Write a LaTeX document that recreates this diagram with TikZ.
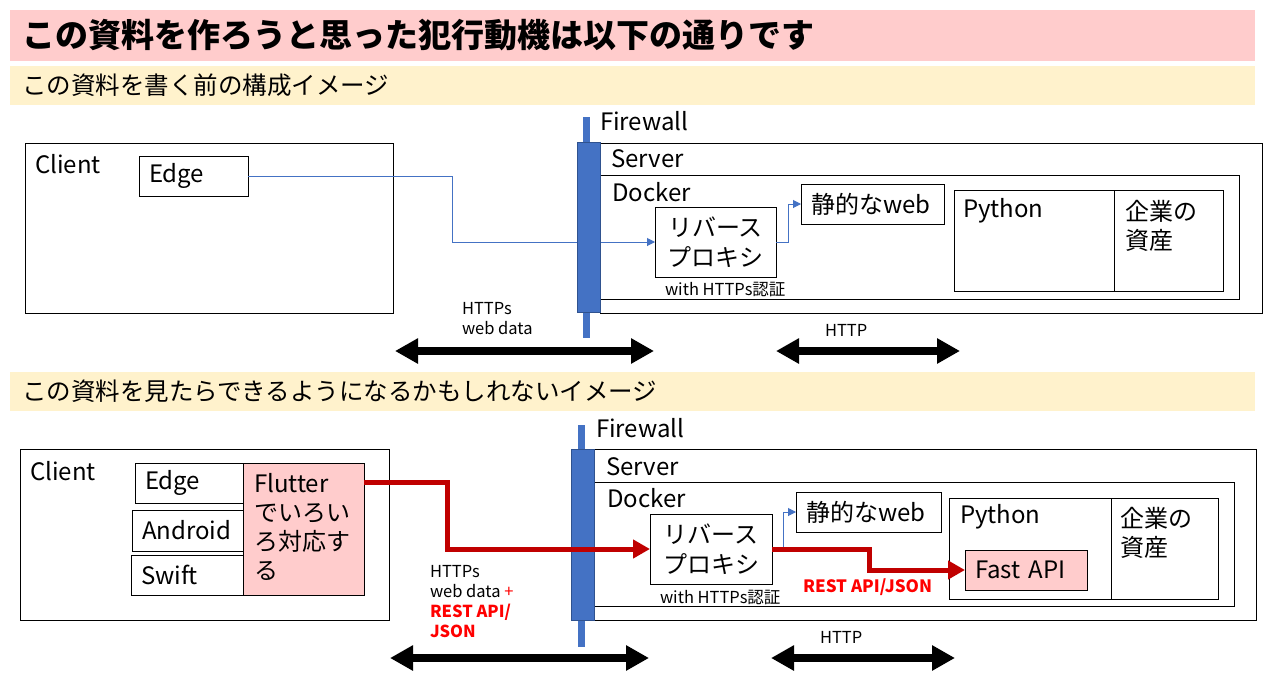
\documentclass[tikz,border=0pt]{standalone}
\usepackage{fontspec}
\setmainfont{Noto Sans CJK JP}
\usetikzlibrary{arrows.meta}
\definecolor{titlepink}{RGB}{255,204,204}
\definecolor{subyellow}{RGB}{255,242,204}
\definecolor{fwblue}{RGB}{68,114,196}
\definecolor{fwdark}{RGB}{47,82,143}
\definecolor{darkred}{RGB}{192,0,0}
\definecolor{brightred}{RGB}{255,0,0}
\begin{document}
\begin{tikzpicture}[x=1pt,y=-1pt,
  every node/.style={inner sep=0pt, outer sep=0pt},
  lbl/.style={anchor=base west, font=\fontsize{24}{29}\selectfont},
  mlbl/.style={anchor=north west, align=left, font=\fontsize{24}{29}\selectfont},
  smalltxt/.style={anchor=north west, align=left, font=\fontsize{16.5}{20}\selectfont},
  box/.style={draw=black, line width=1pt, anchor=north west},
  tbox/.style={box, inner xsep=10pt, text width=#1, minimum height=40pt, align=left, font=\fontsize{24}{29}\selectfont},
  proxybox/.style={box, minimum width=121pt, minimum height=70pt, align=center, font=\fontsize{24}{30}\selectfont},
  band/.style={fill=#1, anchor=north west, inner xsep=12pt, text width=1221pt, align=left},
  fwline/.style={draw=fwblue, line width=7pt},
  fwbar/.style={fill=fwblue, draw=fwdark, line width=1pt, anchor=north west, minimum width=23pt, minimum height=170pt},
  bluearrow/.style={draw=fwblue, line width=1pt, -{Triangle[length=8pt,width=8pt]}},
  redarrow/.style={draw=darkred, line width=5pt, -{Triangle[length=17pt,width=18pt]}},
  bigarrow/.style={draw=black, line width=8pt, {Triangle[length=23pt,width=24pt]}-{Triangle[length=23pt,width=24pt]}},
  restlbl/.style={anchor=base west, font=\fontsize{17}{20}\selectfont\bfseries, text=brightred}
]
\useasboundingbox (0,0) rectangle (1268,677);
\fill[white] (0,0) rectangle (1268,677);

% headers
\node[band=titlepink, minimum height=51pt, font=\fontsize{33}{36}\selectfont\bfseries] (title) at (10,10) {この資料を作ろうと思った犯行動機は以下の通りです};
\node[band=subyellow, minimum height=39pt, font=\fontsize{24.5}{28}\selectfont] (sub1) at (10,66) {この資料を書く前の構成イメージ};
\node[band=subyellow, minimum height=39pt, font=\fontsize{24.5}{28}\selectfont] (sub2) at (10,372) {この資料を見たらできるようになるかもしれないイメージ};

% ================= top diagram =================
\node[box, minimum width=368pt, minimum height=170pt] (client1) at (25,143) {};
\node[lbl] (client1t) at (35,173) {Client};
\node[tbox=89pt] (edge1) at (139,156) {Edge};

\node[box, minimum width=662pt, minimum height=170pt] (server1) at (600,143) {};
\node[lbl] (server1t) at (611,167) {Server};
\node[box, minimum width=639pt, minimum height=124pt] (docker1) at (600,175) {};
\node[lbl] (docker1t) at (612,201) {Docker};
\node[proxybox] (rp1) at (655,207) {リバース\\プロキシ};
\node[smalltxt, anchor=base west] (auth1) at (665,295) {with HTTPs認証};
\node[tbox=123pt] (web1) at (801,184) {静的なweb};
\node[box, minimum width=269pt, minimum height=101pt] (py1) at (954,190) {};
\draw[line width=1pt] ([xshift=160pt]py1.north west) -- ([xshift=160pt]py1.south west);
\node[lbl] (py1t) at (963,217) {Python};
\node[mlbl] (asset1) at (1125,200) {企業の\\資産};

\draw[bluearrow] (edge1.east) -- ++(204,0) |- (rp1.west);
\draw[bluearrow] (rp1.east) -- ++(12,0) |- (web1.west);

\draw[fwline] (586,117) -- (586,338);
\node[fwbar] (fw1) at (577,142) {};
\node[lbl] (fw1t) at (600,130) {Firewall};

\node[smalltxt] (https1) at (462,302) {HTTPs\\web data};
\node[smalltxt, anchor=base west] (http1) at (825,336) {HTTP};
\coordinate (a1l) at (395,351);
\coordinate (a1r) at (654,351);
\coordinate (b1l) at (776,351);
\coordinate (b1r) at (960,351);
\draw[bigarrow] (a1l) -- (a1r);
\draw[bigarrow] (b1l) -- (b1r);

% ================= bottom diagram =================
\node[box, minimum width=369pt, minimum height=171pt] (client2) at (20,449) {};
\node[lbl] (client2t) at (30,480) {Client};
\node[tbox=88pt] (edge2) at (135,463) {Edge};
\node[tbox=91pt, minimum height=41pt] (android2) at (132,510) {Android};
\node[tbox=92pt] (swift2) at (131,555) {Swift};
\node[box, fill=titlepink, minimum width=121pt, minimum height=132pt] (flutter2) at (243,463) {};
\node[mlbl] (flutter2t) at (254,473) {Flutter\\でいろい\\ろ対応す\\る};

\node[box, minimum width=662pt, minimum height=171pt] (server2) at (594,449) {};
\node[lbl] (server2t) at (606,475) {Server};
\node[box, minimum width=640pt, minimum height=124pt] (docker2) at (594,482) {};
\node[lbl] (docker2t) at (607,507) {Docker};
\node[proxybox, minimum width=122pt] (rp2) at (650,514) {リバース\\プロキシ};
\node[smalltxt, anchor=base west] (auth2) at (660,603) {with HTTPs認証};
\node[tbox=125pt] (web2) at (796,492) {静的なweb};
\node[box, minimum width=269pt, minimum height=101pt] (py2) at (949,498) {};
\draw[line width=1pt] ([xshift=162pt]py2.north west) -- ([xshift=162pt]py2.south west);
\node[lbl] (py2t) at (960,523) {Python};
\node[mlbl] (asset2) at (1120,507) {企業の\\資産};
\node[tbox=102pt, fill=titlepink] (fa2) at (965,550) {Fast API};

\draw[fwline] (581,425) -- (581,647);
\node[fwbar, minimum height=171pt] (fw2) at (571,449) {};
\node[lbl] (fw2t) at (596,437) {Firewall};

\draw[bluearrow] ([xshift=11pt]rp2.east) |- (web2.west);
\draw[redarrow] ([yshift=-19.5pt]flutter2.north east) -- ++(83,0) |- (rp2.west);
\draw[redarrow] (rp2.east) -- ++(97,0) |- (fa2.west);
\node[restlbl] (rest2) at (803,592) {REST API/JSON};

\node[smalltxt] (https2) at (430,565) {HTTPs\\web data \textcolor{brightred}{+}\\{\bfseries\color{brightred}REST API/}\\{\bfseries\color{brightred}JSON}};
\node[smalltxt, anchor=base west] (http2) at (820,643) {HTTP};
\coordinate (a2l) at (390,658);
\coordinate (a2r) at (649,658);
\coordinate (b2l) at (771,658);
\coordinate (b2r) at (955,658);
\draw[bigarrow] (a2l) -- (a2r);
\draw[bigarrow] (b2l) -- (b2r);
\end{tikzpicture}
\end{document}
